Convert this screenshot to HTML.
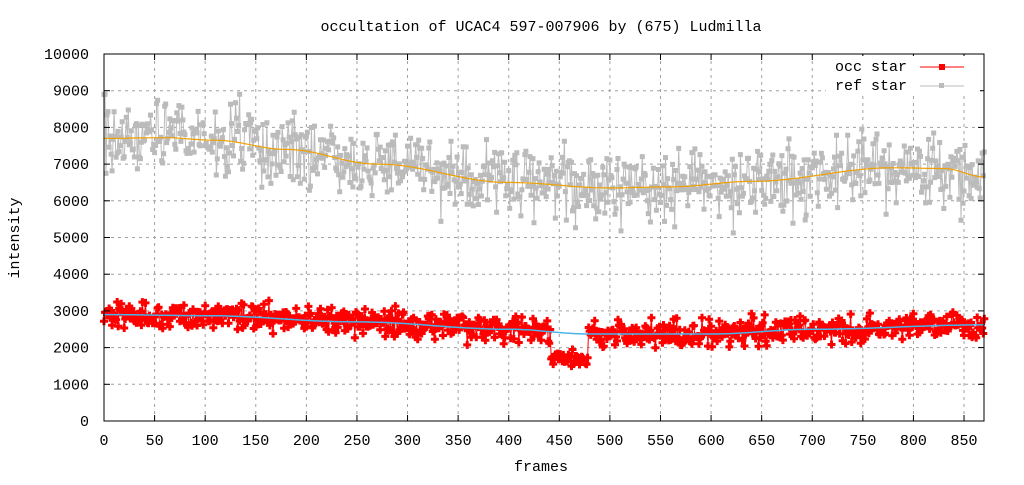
<!DOCTYPE html>
<html><head><meta charset="utf-8"><style>
body{margin:0;background:#fff;}
svg text{font-family:"Liberation Mono",monospace;font-size:15px;fill:#000;}
</style></head><body>
<svg id="s" width="1024" height="480" xmlns="http://www.w3.org/2000/svg">
<rect width="1024" height="480" fill="#fff"/>
<g id="grid"></g>
<g id="data"></g>
<rect x="104" y="54" width="880" height="367" fill="none" stroke="#000" stroke-width="1"/>
<g id="ticks"></g>
<text x="541" y="31" text-anchor="middle">occultation of UCAC4 597-007906 by (675) Ludmilla</text>
<text x="541" y="471" text-anchor="middle">frames</text>
<text transform="translate(19,238) rotate(-90)" text-anchor="middle">intensity</text>
<rect x="826" y="56" width="154" height="38" fill="#fff"/>
<text x="907" y="71" text-anchor="end">occ star</text>
<text x="907" y="90" text-anchor="end">ref star</text>
<line x1="920" y1="67" x2="964" y2="67" stroke="#f00"/><rect x="939" y="64" width="6" height="6" fill="#f00"/>
<line x1="920" y1="86" x2="964" y2="86" stroke="#bbb"/><rect x="939" y="83" width="5" height="5" fill="#bbb"/>
</svg>
<script>
var NS="http://www.w3.org/2000/svg";
function X(f){return 104+f*1.0118;}
function Y(v){return 421-v*0.0367;}
function el(p,t,a){var e=document.createElementNS(NS,t);for(var k in a)e.setAttribute(k,a[k]);p.appendChild(e);return e;}
var g=document.getElementById('grid'),tk=document.getElementById('ticks'),d=document.getElementById('data');
for(var v=0;v<=10000;v+=1000){var y=Y(v);
 if(v>0&&v<10000)el(g,'line',{x1:104,x2:984,y1:y,y2:y,stroke:'#a0a0a0','stroke-dasharray':'3,4'});
 el(tk,'line',{x1:104,x2:110,y1:y,y2:y,stroke:'#000'});el(tk,'line',{x1:978,x2:984,y1:y,y2:y,stroke:'#000'});
 var t=el(tk,'text',{x:89,y:y+5,'text-anchor':'end'});t.textContent=v;}
for(var f=0;f<=850;f+=50){var x=X(f);
 if(f>0)el(g,'line',{x1:x,x2:x,y1:54,y2:421,stroke:'#a0a0a0','stroke-dasharray':'3,4'});
 el(tk,'line',{x1:x,x2:x,y1:421,y2:415,stroke:'#000'});el(tk,'line',{x1:x,x2:x,y1:54,y2:60,stroke:'#000'});
 var t=el(tk,'text',{x:x,y:445,'text-anchor':'middle'});t.textContent=f;}
var seed=12345;function r(){seed=(seed*16807)%2147483647;return seed/2147483647;}
function gn(){return (r()+r()+r()+r()-2)*1.7;}
function interp(pts,f){for(var i=1;i<pts.length;i++){if(f<=pts[i][0]){var a=pts[i-1],b=pts[i],t=(f-a[0])/(b[0]-a[0]);t=(1-Math.cos(t*Math.PI))/2;return a[1]+(b[1]-a[1])*t;}}return pts[pts.length-1][1];}
var gm=[[0,7700],[60,7720],[110,7650],[180,7400],[270,7000],[400,6500],[500,6350],[560,6380],[640,6530],[780,6900],[830,6880],[870,6650]];
var rm=[[0,2900],[100,2870],[250,2700],[400,2500],[480,2370],[600,2370],[700,2500],[870,2620]];
var N=870,gp=[],rp=[];
for(var f=0;f<=N;f++){var m=interp(gm,f);var v=m+gn()*470;if(f<2)v=8900;gp.push([X(f),Y(v)]);
 var rm_=interp(rm,f);var w=rm_+gn()*180;if(f>=442&&f<=478)w=1700+gn()*110;rp.push([X(f),Y(w)]);}
function pl(p){return p.map(function(q){return q[0].toFixed(1)+','+q[1].toFixed(1)}).join(' ');}
el(d,'polyline',{points:pl(gp),fill:'none',stroke:'#bbb','stroke-width':1});
var gs='';gp.forEach(function(q){gs+='M'+(q[0]-2.5).toFixed(1)+','+(q[1]-2.5).toFixed(1)+'h5v5h-5z';});
el(d,'path',{d:gs,fill:'#bbb'});
var om=[];for(var f=0;f<=N;f+=5)om.push([X(f),Y(interp(gm,f))]);
el(d,'polyline',{points:pl(om),fill:'none',stroke:'#f0a000','stroke-width':1.2});
el(d,'polyline',{points:pl(rp),fill:'none',stroke:'#f00','stroke-width':1});
var rs='';rp.forEach(function(q){rs+='M'+(q[0]-4).toFixed(1)+','+(q[1]-1.5).toFixed(1)+'h2.5v-2.5h3v2.5h2.5v3h-2.5v2.5h-3v-2.5h-2.5z';});
el(d,'path',{d:rs,fill:'#f00'});
var bm=[];for(var f=0;f<=N;f+=5)bm.push([X(f),Y(interp(rm,f))]);
el(d,'polyline',{points:pl(bm),fill:'none',stroke:'#4ab4ea','stroke-width':1.5});
</script>
</body></html>
